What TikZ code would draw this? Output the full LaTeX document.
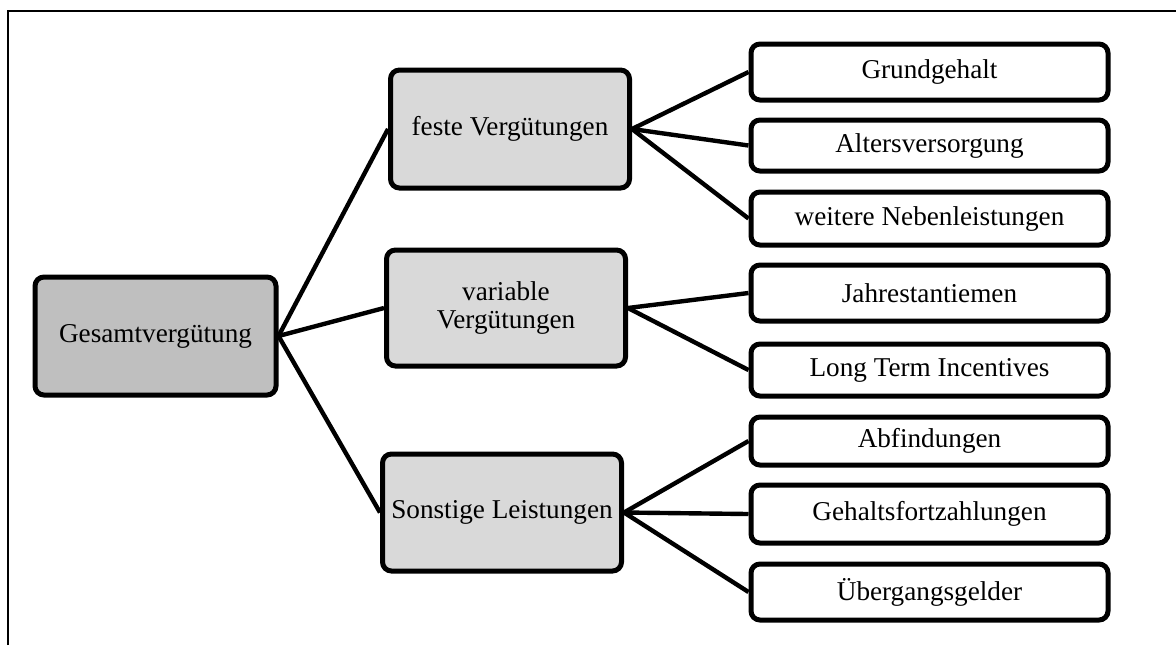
\documentclass[tikz,border=0pt]{standalone}
\usepackage{fontspec}
\setmainfont{Liberation Serif}
\begin{document}
\begin{tikzpicture}[x=0.5pt,y=-0.5pt,
  box/.style={draw=black,line width=2.5pt,rounded corners=4.5pt,inner sep=0pt,align=center,
    font=\fontsize{13.6}{13.8}\selectfont},
  rootbox/.style={box,fill=black!25,minimum width=120.5pt,minimum height=59pt},
  midbox/.style={box,fill=black!15,minimum width=119.5pt},
  leafbox/.style={box,fill=white,minimum width=178.5pt},
  conn/.style={line width=2.2pt}]
\useasboundingbox (0,0) rectangle (1176,645);
\draw[line width=1.1pt] (8,645) -- (8,11) -- (1176,11);
\node[rootbox] (G) at (155.5,336) {Gesamtvergütung};
\node[midbox,minimum height=59pt] (F) at (510,129) {feste Vergütungen};
\node[midbox,minimum height=58pt] (V) at (506,308) {variable\\Vergütungen};
\node[midbox,minimum height=58.5pt] (S) at (502,512.5) {Sonstige Leistungen};
\node[leafbox,minimum height=28pt] (R1) at (929.5,72) {Grundgehalt};
\node[leafbox,minimum height=25.5pt] (R2) at (929.5,145.5) {Altersversorgung};
\node[leafbox,minimum height=26.5pt] (R3) at (929.5,218.5) {weitere Nebenleistungen};
\node[leafbox,minimum height=28pt] (R4) at (929.5,293) {Jahrestantiemen};
\node[leafbox,minimum height=26pt] (R5) at (929.5,370) {Long Term Incentives};
\node[leafbox,minimum height=24pt] (R6) at (929.5,441) {Abfindungen};
\node[leafbox,minimum height=29pt] (R7) at (929.5,514) {Gehaltsfortzahlungen};
\node[leafbox,minimum height=28pt] (R8) at (929.5,592) {Übergangsgelder};
\draw[conn] (G.east) -- (F.west);
\draw[conn] (G.east) -- (V.west);
\draw[conn] (G.east) -- (S.west);
\draw[conn] (F.east) -- (R1.west);
\draw[conn] (F.east) -- (R2.west);
\draw[conn] (F.east) -- (R3.west);
\draw[conn] (V.east) -- (R4.west);
\draw[conn] (V.east) -- (R5.west);
\draw[conn] (S.east) -- (R6.west);
\draw[conn] (S.east) -- (R7.west);
\draw[conn] (S.east) -- (R8.west);
\end{tikzpicture}
\end{document}
